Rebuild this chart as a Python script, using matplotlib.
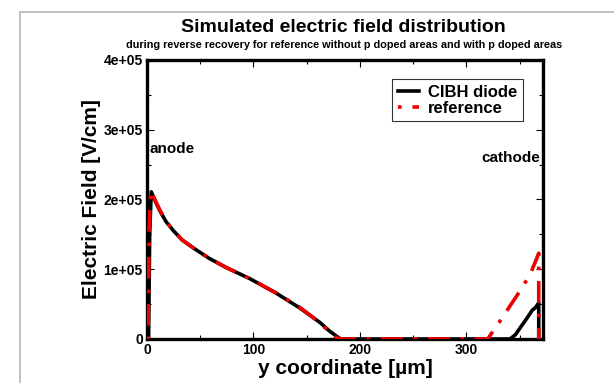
import matplotlib
matplotlib.use("Agg")
import matplotlib.pyplot as plt
from matplotlib.lines import Line2D

plt.rcParams["font.family"] = ["Liberation Sans", "DejaVu Sans"]
plt.rcParams["font.weight"] = "bold"

# CIBH diode (black) - y in um, field in V/cm
cibh_x = [0, 1.5, 2.5, 4, 8, 12, 18, 25, 33, 45, 58, 75, 96, 120, 143, 155,
          163, 171, 178, 182, 200, 300, 341, 346, 351, 357, 362, 365, 368, 368]
cibh_e = [0, 0, 1.5e5, 2.11e5, 1.97e5, 1.84e5, 1.68e5, 1.55e5, 1.42e5, 1.29e5,
          1.16e5, 1.02e5, 0.87e5, 0.67e5, 0.45e5, 0.32e5, 0.23e5, 0.12e5,
          0.04e5, 0, 0, 0, 0, 0.06e5, 0.17e5, 0.3e5, 0.415e5, 0.45e5, 0.52e5, 0]

# reference (red)
ref_x = [0, 1, 2, 3.5, 8, 12, 18, 25, 33, 45, 58, 75, 96, 120, 143, 155,
         163, 171, 177, 181, 200, 300, 320, 330, 340, 350, 360, 366, 368, 368]
ref_e = [0, 0, 1.6e5, 2.13e5, 1.98e5, 1.85e5, 1.69e5, 1.55e5, 1.42e5, 1.29e5,
         1.16e5, 1.02e5, 0.87e5, 0.67e5, 0.46e5, 0.32e5, 0.22e5, 0.11e5,
         0.03e5, 0, 0, 0, 0, 0.22e5, 0.45e5, 0.68e5, 0.93e5, 1.15e5, 1.23e5, 0]

fig = plt.figure(figsize=(6.14, 3.83), dpi=100)

# grey page frame (left and top)
fig.add_artist(Line2D([20 / 614, 20 / 614], [0, 1 - 12 / 383], color="#b5b5b5", lw=1.2))
fig.add_artist(Line2D([20 / 614, 1], [1 - 12 / 383, 1 - 12 / 383], color="#b5b5b5", lw=1.2))

ax = fig.add_axes([147 / 614, 1 - 339 / 383, 396 / 614, 279 / 383])

ax.plot(cibh_x, cibh_e, color="black", lw=2.6, label="CIBH diode", zorder=3)
ax.plot(ref_x, ref_e, color="#ee0000", lw=2.6, dashes=(1, 3, 6, 3),
        label="reference", zorder=4)

ax.set_xlim(0, 372)
ax.set_ylim(0, 4e5)
ax.set_xticks([0, 100, 200, 300])
ax.set_xticks([50, 150, 250, 350], minor=True)
ax.set_yticks([0, 1e5, 2e5, 3e5, 4e5])
ax.set_yticklabels(["0", "1e+05", "2e+05", "3e+05", "4e+05"])
ax.set_yticks([0.5e5, 1.5e5, 2.5e5, 3.5e5], minor=True)
ax.tick_params(which="both", direction="in", top=True, right=True,
               width=0.8, labelsize=10, pad=3)
ax.tick_params(which="major", length=5)
ax.tick_params(which="minor", length=3)
for lab in ax.get_xticklabels() + ax.get_yticklabels():
    lab.set_fontweight("bold")
for spine in ax.spines.values():
    spine.set_linewidth(2.4)

ax.set_xlabel("y coordinate [µm]", fontsize=15, fontweight="bold", labelpad=1)
ax.set_ylabel("Electric Field [V/cm]", fontsize=15, fontweight="bold", labelpad=2)

ax.text(2, 2.72e5, "anode", fontsize=11, fontweight="bold", ha="left", va="center")
ax.text(369, 2.6e5, "cathode", fontsize=11, fontweight="bold", ha="right", va="center")

leg = ax.legend(loc="upper right", bbox_to_anchor=(0.949, 0.932), borderaxespad=0,
                fontsize=12, frameon=True, fancybox=False, edgecolor="black",
                handlelength=1.3, borderpad=0.35, labelspacing=0.05, handletextpad=0.5)
leg.get_frame().set_linewidth(0.8)
for t in leg.get_texts():
    t.set_fontweight("bold")

fig.text(0.56, 0.928, "Simulated electric field distribution", fontsize=14,
         fontweight="bold", ha="center", va="center")
fig.text(0.56, 0.882, "during reverse recovery for reference without p doped areas and with p doped areas",
         fontsize=7.8, fontweight="bold", ha="center", va="center")

fig.savefig("out.png", dpi=100)
